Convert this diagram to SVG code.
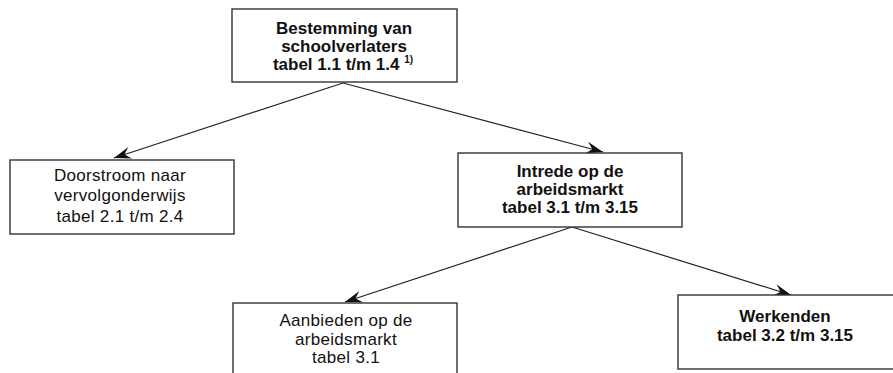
<svg xmlns="http://www.w3.org/2000/svg" width="893" height="373" viewBox="0 0 893 373">
  <defs>
    <marker id="arrow" viewBox="-17 -7 18 14" refX="0" refY="0" markerWidth="18" markerHeight="14" markerUnits="userSpaceOnUse" orient="auto">
      <path d="M0,0 L-17,-6 L-11,0 L-17,6 Z" fill="#111"/>
    </marker>
  </defs>
  <style>
    .box { fill: #fff; stroke: #333; stroke-width: 1.4; }
    .t { font-family: "Liberation Sans", Arial, sans-serif; font-size: 17px; fill: #111; text-anchor: middle; }
    .r { letter-spacing: 0.3px; }
    .b { font-weight: bold; }
    .sup { font-size: 10px; font-weight: bold; }
    .conn { stroke: #222; stroke-width: 1.2; fill: none; marker-end: url(#arrow); }
  </style>
  <rect width="893" height="373" fill="#fff"/>

  <g id="connectors">
    <line class="conn" x1="343" y1="83" x2="114" y2="158"/>
    <line class="conn" x1="343" y1="83" x2="603" y2="152"/>
    <line class="conn" x1="572" y1="227" x2="345" y2="302"/>
    <line class="conn" x1="572" y1="227" x2="791" y2="295"/>
  </g>

  <g id="bestemming">
    <rect class="box" x="232" y="9" width="225" height="73"/>
    <text class="t b" x="344" y="34">Bestemming van</text>
    <text class="t b" x="344" y="52">schoolverlaters</text>
    <text class="t b" x="343" y="70">tabel 1.1 t/m 1.4 <tspan class="sup" dy="-7">1)</tspan></text>
  </g>

  <g id="doorstroom">
    <rect class="box" x="10" y="160" width="224" height="74"/>
    <text class="t r" x="120" y="181">Doorstroom naar</text>
    <text class="t r" x="120" y="201">vervolgonderwijs</text>
    <text class="t r" x="120" y="222">tabel 2.1 t/m 2.4</text>
  </g>

  <g id="intrede">
    <rect class="box" x="458" y="153" width="224" height="74"/>
    <text class="t b" x="570" y="177">Intrede op de</text>
    <text class="t b" x="570" y="195">arbeidsmarkt</text>
    <text class="t b" x="570" y="213">tabel 3.1 t/m 3.15</text>
  </g>

  <g id="aanbieden">
    <rect class="box" x="233" y="303" width="224" height="80"/>
    <text class="t r" x="346" y="326">Aanbieden op de</text>
    <text class="t r" x="346" y="345">arbeidsmarkt</text>
    <text class="t r" x="346" y="363">tabel 3.1</text>
  </g>

  <g id="werkenden">
    <rect class="box" x="678" y="295" width="224" height="74"/>
    <text class="t b" x="785" y="322">Werkenden</text>
    <text class="t b" x="785" y="341">tabel 3.2 t/m 3.15</text>
  </g>
</svg>
